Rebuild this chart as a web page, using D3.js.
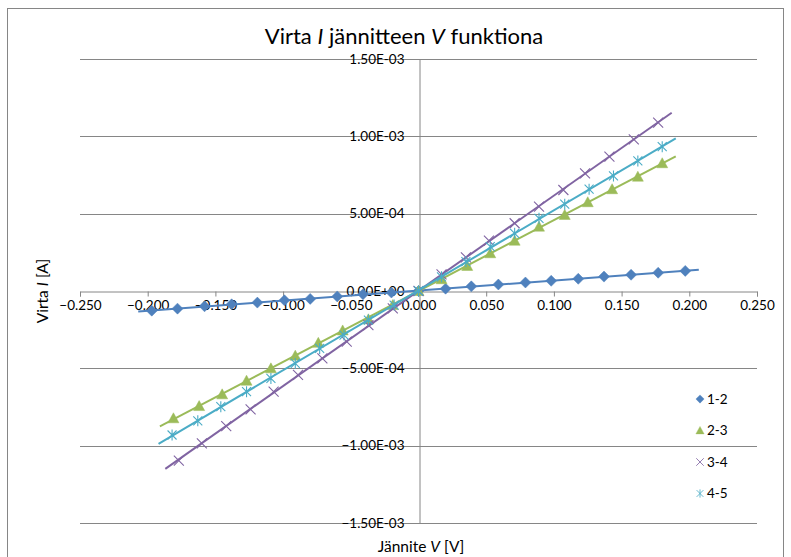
<!DOCTYPE html>
<html>
<head>
<meta charset="utf-8">
<script src="https://cdn.jsdelivr.net/npm/d3@7"></script>
<style>
  body { margin: 0; background: #fff; }
  text { font-family: Lato, "Liberation Sans", sans-serif; fill: #000; }
</style>
</head>
<body>
<div id="chart"></div>
<script>
// Data (V in volts, I in amperes)
const seriesNames = ["1-2", "2-3", "3-4", "4-5"];
const xTicks = [-0.25, -0.2, -0.15, -0.1, -0.05, 0, 0.05, 0.1, 0.15, 0.2, 0.25];
const yTicks = [-1.5e-3, -1.0e-3, -5.0e-4, 0, 5.0e-4, 1.0e-3, 1.5e-3];

const v12 = [-0.197, -0.178, -0.158, -0.138, -0.119, -0.099, -0.080, -0.060, -0.041, -0.020, 0,
             0.020, 0.039, 0.059, 0.079, 0.098, 0.118, 0.137, 0.157, 0.177, 0.197];
const i12 = [-1.27e-4, -1.14e-4, -9.9e-5, -8.6e-5, -7.5e-5, -6.0e-5, -5.1e-5, -3.5e-5, -2.1e-5, -1.0e-5, 0,
             1.5e-5, 3.0e-5, 4.2e-5, 5.5e-5, 6.6e-5, 7.9e-5, 9.3e-5, 1.05e-4, 1.18e-4, 1.30e-4];

const v23 = [-0.181, -0.162, -0.145, -0.127, -0.109, -0.091, -0.074, -0.056, -0.037, -0.019, 0,
             0.017, 0.036, 0.053, 0.071, 0.089, 0.108, 0.125, 0.143, 0.162, 0.180];
const i23 = [-8.23e-4, -7.44e-4, -6.68e-4, -5.80e-4, -5.00e-4, -4.18e-4, -3.35e-4, -2.55e-4, -1.83e-4, -9.1e-5, 0,
             7.6e-5, 1.62e-4, 2.44e-4, 3.25e-4, 4.16e-4, 4.92e-4, 5.74e-4, 6.58e-4, 7.39e-4, 8.26e-4];

const v34 = [-0.177, -0.160, -0.142, -0.124, -0.107, -0.089, -0.071, -0.053, -0.037, -0.019, 0,
             0.017, 0.035, 0.052, 0.071, 0.089, 0.107, 0.123, 0.141, 0.159, 0.177];
const i34 = [-1.097e-3, -9.85e-4, -8.73e-4, -7.65e-4, -6.51e-4, -5.43e-4, -4.35e-4, -3.28e-4, -2.20e-4, -1.12e-4, 0,
             1.08e-4, 2.18e-4, 3.25e-4, 4.38e-4, 5.45e-4, 6.53e-4, 7.61e-4, 8.69e-4, 9.81e-4, 1.089e-3];

const v45 = [-0.182, -0.163, -0.146, -0.127, -0.109, -0.091, -0.073, -0.055, -0.037, -0.018, 0,
             0.017, 0.035, 0.053, 0.071, 0.089, 0.108, 0.126, 0.144, 0.162, 0.180];
const i45 = [-9.31e-4, -8.39e-4, -7.48e-4, -6.51e-4, -5.65e-4, -4.68e-4, -3.71e-4, -2.85e-4, -1.88e-4, -9.1e-5, 0,
             9.2e-5, 1.90e-4, 2.87e-4, 3.73e-4, 4.70e-4, 5.61e-4, 6.58e-4, 7.44e-4, 8.41e-4, 9.33e-4];

const seriesV = [v12, v23, v34, v45];
const seriesI = [i12, i23, i34, i45];
const colors = ["#4F81BD", "#9BBB59", "#8064A2", "#4BACC6"];
const markers = ["diamond", "triangle", "cross", "star"];

const width = 791, height = 557;
const grid = "#868686";

const svg = d3.select("#chart")
    .append("svg")
    .attr("width", width)
    .attr("height", height);

// chart border
svg.append("rect")
    .attr("x", 7.5).attr("y", 8.5)
    .attr("width", 776).attr("height", 600)
    .attr("fill", "#fff")
    .attr("stroke", grid);

const x = d3.scaleLinear().domain([-0.25, 0.25]).range([80, 757]);
const y = d3.scaleLinear().domain([-1.5e-3, 1.5e-3]).range([523, 59]);

// horizontal gridlines
svg.append("g")
    .selectAll("line")
    .data(yTicks.filter(d => d !== 0))
    .join("line")
    .attr("x1", x(-0.25)).attr("x2", x(0.25))
    .attr("y1", d => Math.round(y(d)) + 0.5)
    .attr("y2", d => Math.round(y(d)) + 0.5)
    .attr("stroke", grid);

// x axis through zero
const xAxis = svg.append("g")
    .attr("transform", `translate(0,${Math.round(y(0)) + 0.5})`)
    .call(d3.axisBottom(x).tickValues(xTicks).tickSize(5).tickFormat(d3.format(".3f")));
xAxis.select(".domain").attr("stroke", grid);
xAxis.selectAll(".tick line").attr("stroke", grid);
xAxis.selectAll(".tick text")
    .attr("font-size", 13.5)
    .attr("font-family", "Lato, sans-serif")
    .attr("dy", "0.95em")
    .attr("y", 6);

// y axis through zero
const yAxis = svg.append("g")
    .attr("transform", `translate(${Math.round(x(0)) + 0.5},0)`)
    .call(d3.axisLeft(y).tickValues(yTicks).tickSize(0)
        .tickFormat(d => d3.format(".2e")(d).toUpperCase().replace(/E([+-])(\d)$/, "E$10$2")));
yAxis.select(".domain").attr("stroke", grid);
yAxis.selectAll(".tick text")
    .attr("font-size", 13.5)
    .attr("font-family", "Lato, sans-serif")
    .attr("x", -15);

// marker shapes
function markerPath(type) {
    if (type === "diamond") return "M0,-5.5L5.5,0L0,5.5L-5.5,0Z";
    if (type === "triangle") return "M0,-5.5L5.5,4.5L-5.5,4.5Z";
    if (type === "cross") return "M-5,-5L5,5M-5,5L5,-5";
    return "M-4.5,-4.5L4.5,4.5M-4.5,4.5L4.5,-4.5M0,-5.5L0,5.5";
}
function drawMarker(sel, type, color) {
    const filled = type === "diamond" || type === "triangle";
    sel.append("path")
        .attr("d", markerPath(type))
        .attr("fill", filled ? color : "none")
        .attr("stroke", color)
        .attr("stroke-width", filled ? 0.5 : 1.1);
}

// series: linear trendline plus markers
const plot = svg.append("g");
seriesNames.forEach((name, k) => {
    const pts = seriesV[k].map((v, i) => ({ v, i: seriesI[k][i] }));
    const mv = d3.mean(pts, d => d.v), mi = d3.mean(pts, d => d.i);
    const slope = d3.sum(pts, d => (d.v - mv) * (d.i - mi)) / d3.sum(pts, d => (d.v - mv) ** 2);
    const icpt = mi - slope * mv;
    const [v0, v1] = d3.extent(seriesV[k]);
    const ends = [v0 - 0.01, v1 + 0.01];

    plot.append("line")
        .attr("x1", x(ends[0])).attr("y1", y(icpt + slope * ends[0]))
        .attr("x2", x(ends[1])).attr("y2", y(icpt + slope * ends[1]))
        .attr("stroke", colors[k])
        .attr("stroke-width", 2);

    plot.append("g")
        .selectAll("g")
        .data(pts)
        .join("g")
        .attr("transform", d => `translate(${x(d.v)},${y(d.i)})`)
        .each(function() { drawMarker(d3.select(this), markers[k], colors[k]); });
});

// legend
const legend = svg.append("g")
    .selectAll("g")
    .data(seriesNames)
    .join("g")
    .attr("transform", (d, i) => `translate(700,${399 + i * 31.5})`);
legend.each(function(d, i) {
    const g = d3.select(this).append("g").attr("transform", "scale(0.75)");
    drawMarker(g, markers[i], colors[i]);
});
legend.append("text")
    .attr("x", 7)
    .attr("dy", "0.35em")
    .attr("font-size", 13.5)
    .text(d => d);

// title
const title = svg.append("text")
    .attr("x", 404).attr("y", 44)
    .attr("text-anchor", "middle")
    .attr("font-size", 22);
title.append("tspan").text("Virta ");
title.append("tspan").attr("font-style", "italic").text("I");
title.append("tspan").text(" jännitteen ");
title.append("tspan").attr("font-style", "italic").text("V");
title.append("tspan").text(" funktiona");

// axis titles
const xt = svg.append("text")
    .attr("x", 421).attr("y", 552)
    .attr("text-anchor", "middle")
    .attr("font-size", 15.5);
xt.append("tspan").text("Jännite ");
xt.append("tspan").attr("font-style", "italic").text("V");
xt.append("tspan").text(" [V]");

const yt = svg.append("text")
    .attr("transform", `translate(48,${y(0)}) rotate(-90)`)
    .attr("text-anchor", "middle")
    .attr("font-size", 15.5);
yt.append("tspan").text("Virta ");
yt.append("tspan").attr("font-style", "italic").text("I");
yt.append("tspan").text(" [A]");
</script>
</body>
</html>
